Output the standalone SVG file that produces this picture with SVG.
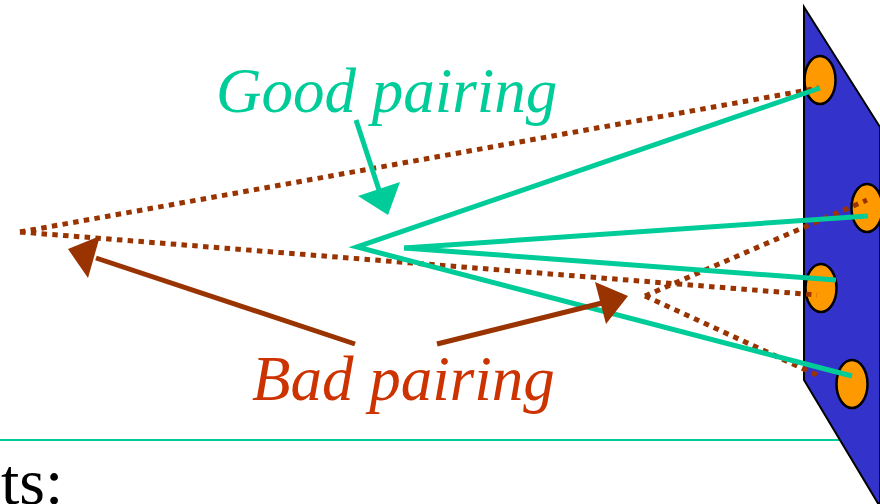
<svg xmlns="http://www.w3.org/2000/svg" width="880" height="504" viewBox="0 0 880 504">
<style>
.good{stroke:#00CC99;stroke-width:5;fill:none;stroke-linecap:butt}
.bad{stroke:#993300;stroke-width:5;fill:none}
.dot{stroke:#993300;stroke-width:5;fill:none;stroke-dasharray:5.5 5.3}
.hole{fill:#FF9900;stroke:#000;stroke-width:2.5}
.lbl{font-family:"Liberation Serif","Times New Roman",serif;font-style:italic;font-size:63px}
</style>
<rect width="880" height="504" fill="#fff"/>
<line x1="0" y1="440" x2="850" y2="440" stroke="#00CC99" stroke-width="2"/>
<g id="panel">
<polygon points="804,7 880,127 880,504 888,520 804,380" fill="#3333CC" stroke="#000" stroke-width="2"/>
</g>
<g id="hole1"><ellipse class="hole" cx="820" cy="80" rx="15.5" ry="24"/></g>
<g id="hole2"><ellipse class="hole" cx="867" cy="208" rx="15.5" ry="24"/></g>
<g id="hole3"><ellipse class="hole" cx="821" cy="288" rx="15.5" ry="24"/></g>
<g id="hole4"><ellipse class="hole" cx="852" cy="384" rx="15.5" ry="24"/></g>
<g id="connectors">
<line class="dot" x1="20" y1="232" x2="819" y2="88"/>
<line class="dot" x1="20" y1="232" x2="817" y2="295"/>
<line class="dot" x1="645" y1="296" x2="867" y2="200"/>
<line class="dot" x1="645" y1="296" x2="817" y2="375"/>
<polyline class="good" points="820,88 357,247 852,376"/>
<line class="good" x1="404" y1="248" x2="868" y2="216"/>
<line class="good" x1="404" y1="248" x2="836" y2="280"/>
<line class="good" x1="356" y1="120" x2="380" y2="193"/>
<polygon points="358,196 400,182 388,215" fill="#00CC99"/>
<line class="bad" x1="355" y1="344" x2="96" y2="258"/>
<polygon points="100,236 88,278 68,249" fill="#993300"/>
<line class="bad" x1="437" y1="344" x2="602" y2="303"/>
<polygon points="595,282 606,324 628,296" fill="#993300"/>
</g>
<g id="good-label"><text class="lbl" x="216" y="112" fill="#00CC99">Good pairing</text></g>
<g id="bad-label"><text class="lbl" x="252" y="400" fill="#CC3300">Bad pairing</text></g>
<text x="1" y="504" font-family="'Liberation Serif','Times New Roman',serif" font-size="66" fill="#000">ts:</text>
</svg>
